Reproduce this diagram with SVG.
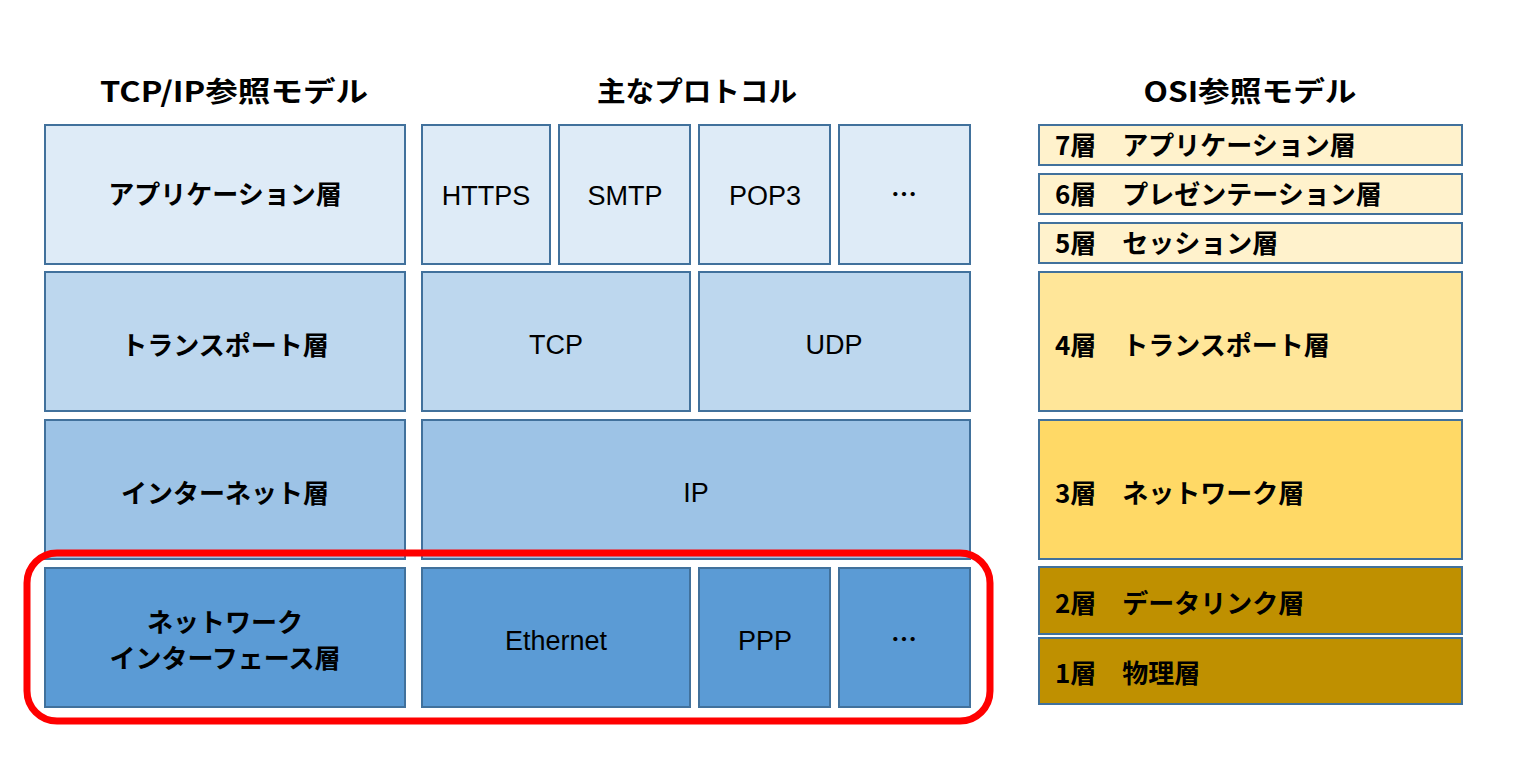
<svg xmlns="http://www.w3.org/2000/svg" width="1516" height="774" viewBox="0 0 1516 774">
<style>
.b{stroke:#41719C;stroke-width:2}
.l1{fill:#DEEBF7}.l2{fill:#BDD7EE}.l3{fill:#9DC3E6}.l4{fill:#5B9BD5}
.o1{fill:#FFF2CC}.o2{fill:#FFE699}.o3{fill:#FFD966}.o4{fill:#BF9000}
.jp{font-family:"Noto Sans CJK JP",sans-serif;font-size:26px;font-weight:bold;fill:#000}
.hd{font-family:"Noto Sans CJK JP",sans-serif;font-size:28px;font-weight:bold;fill:#000;text-anchor:middle}
.en{font-family:"Liberation Sans",Arial,sans-serif;font-size:27px;fill:#000;text-anchor:middle}
.c{text-anchor:middle}
</style>
<rect width="1516" height="774" fill="#fff"/>
<g id="headers">
<text class="hd" x="234" y="102" textLength="268" lengthAdjust="spacingAndGlyphs">TCP/IP参照モデル</text>
<text class="hd" x="697" y="102" textLength="200" lengthAdjust="spacingAndGlyphs">主なプロトコル</text>
<text class="hd" x="1250" y="102" textLength="213" lengthAdjust="spacingAndGlyphs">OSI参照モデル</text>
</g>
<g id="tcpip-app"><rect class="b l1" x="45" y="125" width="360" height="139"/><text class="jp c" x="225" y="204">アプリケーション層</text></g>
<g id="tcpip-transport"><rect class="b l2" x="45" y="272" width="360" height="139"/><text class="jp c" x="225" y="355">トランスポート層</text></g>
<g id="tcpip-internet"><rect class="b l3" x="45" y="420" width="360" height="139"/><text class="jp c" x="225" y="503">インターネット層</text></g>
<g id="tcpip-netif"><rect class="b l4" x="45" y="568" width="360" height="139"/><text class="jp c" x="225" y="632">ネットワーク</text><text class="jp c" x="225" y="668">インターフェース層</text></g>
<g id="p-https"><rect class="b l1" x="422" y="125" width="128" height="139"/><text class="en" x="486" y="205">HTTPS</text></g>
<g id="p-smtp"><rect class="b l1" x="559" y="125" width="131" height="139"/><text class="en" x="625" y="205">SMTP</text></g>
<g id="p-pop3"><rect class="b l1" x="699" y="125" width="131" height="139"/><text class="en" x="765" y="205">POP3</text></g>
<g id="p-more1"><rect class="b l1" x="839" y="125" width="131" height="139"/><text class="jp c" x="904" y="204">…</text></g>
<g id="p-tcp"><rect class="b l2" x="422" y="272" width="268" height="139"/><text class="en" x="556" y="354">TCP</text></g>
<g id="p-udp"><rect class="b l2" x="699" y="272" width="271" height="139"/><text class="en" x="834" y="354">UDP</text></g>
<g id="p-ip"><rect class="b l3" x="422" y="420" width="548" height="139"/><text class="en" x="696" y="502">IP</text></g>
<g id="p-ethernet"><rect class="b l4" x="422" y="568" width="268" height="139"/><text class="en" x="556" y="650">Ethernet</text></g>
<g id="p-ppp"><rect class="b l4" x="699" y="568" width="131" height="139"/><text class="en" x="765" y="650">PPP</text></g>
<g id="p-more2"><rect class="b l4" x="839" y="568" width="131" height="139"/><text class="jp c" x="904" y="649">…</text></g>
<g id="osi7"><rect class="b o1" x="1039" y="125" width="423" height="40"/><text class="jp" x="1055" y="155">7層　アプリケーション層</text></g>
<g id="osi6"><rect class="b o1" x="1039" y="174" width="423" height="40"/><text class="jp" x="1055" y="204">6層　プレゼンテーション層</text></g>
<g id="osi5"><rect class="b o1" x="1039" y="223" width="423" height="40"/><text class="jp" x="1055" y="253">5層　セッション層</text></g>
<g id="osi4"><rect class="b o2" x="1039" y="272" width="423" height="139"/><text class="jp" x="1055" y="355">4層　トランスポート層</text></g>
<g id="osi3"><rect class="b o3" x="1039" y="420" width="423" height="139"/><text class="jp" x="1055" y="503">3層　ネットワーク層</text></g>
<g id="osi2"><rect class="b o4" x="1039" y="567" width="423" height="67"/><text class="jp" x="1055" y="613">2層　データリンク層</text></g>
<g id="osi1"><rect class="b o4" x="1039" y="638" width="423" height="66"/><text class="jp" x="1055" y="683">1層　物理層</text></g>
<g id="highlight"><rect x="27" y="553" width="963" height="168" rx="30" ry="30" fill="none" stroke="#FF0000" stroke-width="7"/></g>
</svg>
